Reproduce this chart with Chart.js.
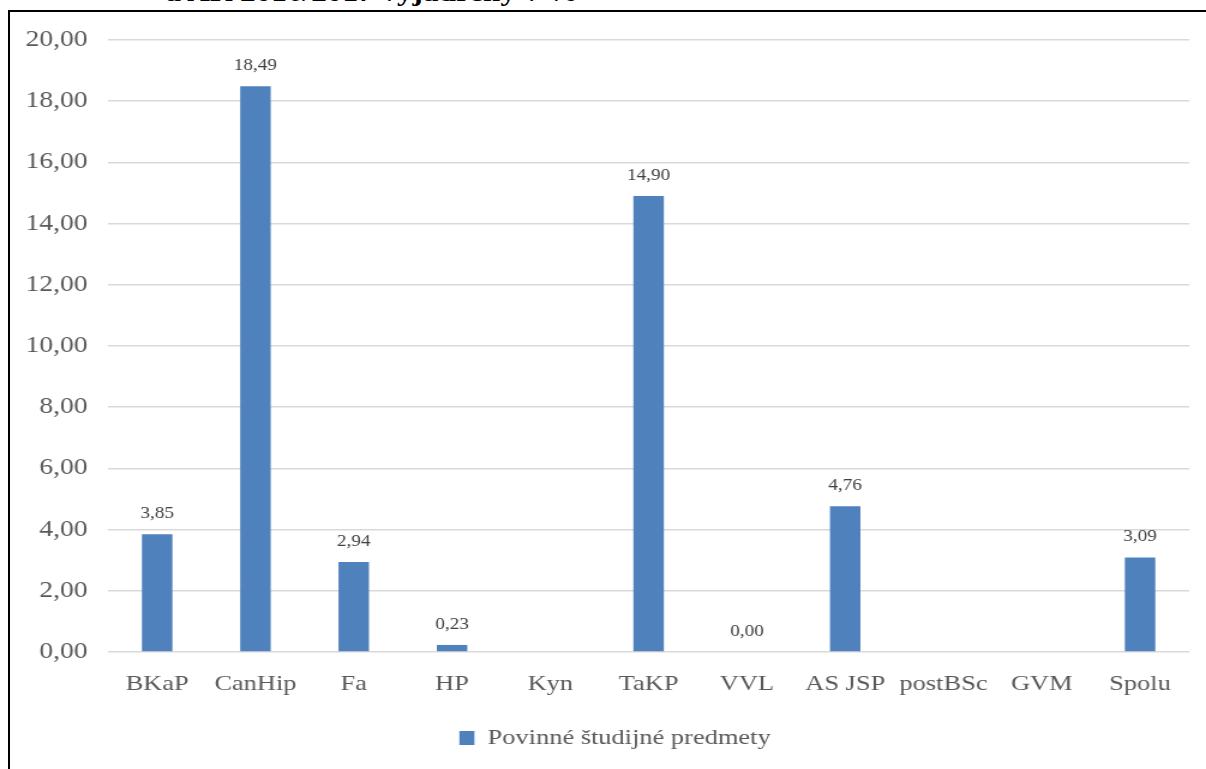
<!DOCTYPE html>
<html>
<head>
<meta charset="utf-8">
<script src="https://cdn.jsdelivr.net/npm/chart.js@4"></script>
<style>
  body { margin: 0; background: #fff; width: 1206px; height: 769px; overflow: hidden; position: relative; }
  #nadpis { position: absolute; left: 0; width: 620px; top: -22px; text-align: center;
    font: bold 26px "Liberation Serif", "Times New Roman", serif; color: #000; white-space: nowrap;
    transform: scaleX(1.2); transform-origin: 0 0; }
  #ram { position: absolute; left: 8px; top: 10px; width: 1300px; height: 900px; border: 2px solid #000; box-sizing: border-box; }
  #obal { position: absolute; left: 0; top: 0; transform: scaleX(1.2); transform-origin: 0 0; }
</style>
</head>
<body>
<div id="nadpis">a AR 2016/2017 vyjadrený v %</div>
<div id="ram"></div>
<div id="obal"><canvas id="myChart" width="1005" height="769"></canvas></div>
<script>
// hodnoty z grafu
const kategorie = ["BKaP", "CanHip", "Fa", "HP", "Kyn", "TaKP", "VVL", "AS JSP", "postBSc", "GVM", "Spolu"];
const povinne = [3.85, 18.49, 2.94, 0.23, null, 14.90, 0.00, 4.76, null, null, 3.09];
const nazovRady = "Povinné študijné predmety";
const osY = { min: 0, max: 20, krok: 2 };

const pismo = '"Liberation Serif", "Times New Roman", serif';

function ciarka(v) {
  return Number(v).toFixed(2).replace(".", ",");
}

// popisky nad stlpcami
const popisky = {
  id: "popisky",
  afterLayout(chart) {
    // legenda je v originali trochu vpravo
    chart.legend.left += 17;
    chart.legend.right += 17;
  },
  afterDatasetsDraw(chart) {
    const ctx = chart.ctx;
    const meta = chart.getDatasetMeta(0);
    ctx.save();
    ctx.font = "16px " + pismo;
    ctx.fillStyle = "#404040";
    ctx.textAlign = "center";
    ctx.textBaseline = "alphabetic";
    meta.data.forEach((bar, i) => {
      const v = chart.data.datasets[0].data[i];
      if (v === null) return;
      ctx.fillText(ciarka(v), bar.x, bar.y - 16);
    });
    ctx.restore();
  }
};

let myChart = document.getElementById("myChart");

const config = {
  type: "bar",
  data: {
    labels: kategorie,
    datasets: [
      { label: nazovRady, data: povinne, backgroundColor: "#4F81BD", borderColor: "#4F81BD", borderWidth: 0,
        barPercentage: 0.31, categoryPercentage: 1 }
    ]
  },
  options: {
    responsive: false,
    animation: false,
    layout: { padding: { top: 40, right: 14, bottom: 10, left: 0 } },
    scales: {
      x: {
        grid: { display: false, drawTicks: false },
        border: { display: false },
        ticks: { color: "#595959", font: { family: pismo, size: 22 }, padding: 19, maxRotation: 0, autoSkip: false },
        afterFit(s) { s.height = 65; }
      },
      y: {
        min: osY.min,
        max: osY.max,
        grid: { color: "#D9D9D9", lineWidth: 1.5, drawTicks: false },
        border: { display: false },
        ticks: {
          stepSize: osY.krok,
          color: "#595959",
          font: { family: pismo, size: 23 },
          padding: 17,
          callback: (v) => ciarka(v)
        },
        afterFit(s) { s.width = 90; }
      }
    },
    plugins: {
      legend: {
        position: "bottom",
        labels: {
          color: "#595959",
          font: { family: pismo, size: 22 },
          boxWidth: 12.5,
          boxHeight: 14,
          padding: 10
        }
      },
      tooltip: { enabled: false }
    }
  },
  plugins: [popisky]
};

new Chart(myChart, config);
</script>
</body>
</html>
